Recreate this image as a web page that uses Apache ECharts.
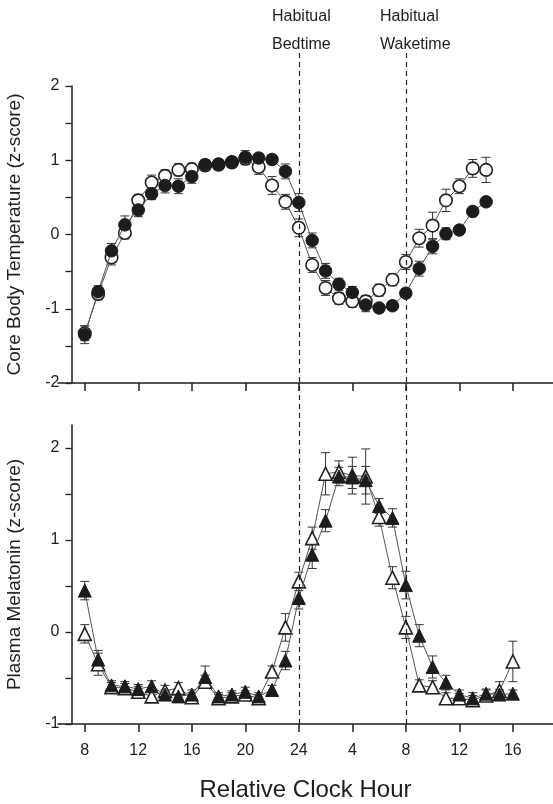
<!DOCTYPE html>
<html>
<head>
<meta charset="utf-8">
<script src="https://cdn.jsdelivr.net/npm/echarts@6/dist/echarts.min.js"></script>
<style>
  html, body { margin: 0; padding: 0; background: #fff; }
  #main { width: 553px; height: 804px; }
</style>
</head>
<body>
<div id="main"></div>
<script>
// relative clock hour (8 = 08:00 day 1, 32 = 08:00 day 2)
var tempHours = [8,9,10,11,12,13,14,15,16,17,18,19,20,21,22,23,24,25,26,27,28,29,30,31,32,33,34,35,36,37,38];
var tempFilled = [-1.35,-0.77,-0.22,0.13,0.33,0.55,0.66,0.65,0.78,0.94,0.95,0.98,1.04,1.03,1.01,0.85,0.43,-0.08,-0.49,-0.67,-0.78,-0.95,-0.99,-0.96,-0.79,-0.46,-0.16,0.01,0.06,0.31,0.44];
var tempFilledErr = [0.12,0.08,0.10,0.12,0.09,0.08,0.10,0.10,0.09,0.07,0.06,0.06,0.09,0.06,0.06,0.10,0.12,0.10,0.10,0.08,0.08,0.09,0.05,0.05,0.06,0.10,0.10,0.08,0.06,0.06,0.05];
var tempOpen = [-1.33,-0.80,-0.31,0.02,0.46,0.70,0.79,0.87,0.88,0.93,0.94,0.97,1.02,0.91,0.66,0.44,0.09,-0.41,-0.72,-0.86,-0.90,-0.90,-0.75,-0.61,-0.37,-0.05,0.12,0.46,0.65,0.89,0.87];
var tempOpenErr = [0.10,0.08,0.10,0.08,0.08,0.10,0.08,0.08,0.08,0.07,0.06,0.06,0.08,0.10,0.12,0.10,0.12,0.10,0.10,0.08,0.08,0.08,0.08,0.08,0.10,0.12,0.18,0.15,0.10,0.12,0.17];

var melHours = [8,9,10,11,12,13,14,15,16,17,18,19,20,21,22,23,24,25,26,27,28,29,30,31,32,33,34,35,36,37,38,39,40];
var melFilled = [0.45,-0.30,-0.58,-0.59,-0.62,-0.59,-0.68,-0.70,-0.68,-0.49,-0.70,-0.68,-0.65,-0.70,-0.63,-0.31,0.37,0.84,1.21,1.69,1.68,1.65,1.37,1.24,0.51,-0.04,-0.38,-0.55,-0.68,-0.72,-0.67,-0.68,-0.67];
var melFilledErr = [0.10,0.10,0.05,0.05,0.05,0.06,0.05,0.05,0.05,0.12,0.04,0.04,0.05,0.04,0.05,0.10,0.12,0.15,0.12,0.10,0.12,0.15,0.08,0.10,0.15,0.12,0.12,0.08,0.05,0.06,0.05,0.05,0.04];
var melOpen = [-0.02,-0.35,-0.60,-0.61,-0.65,-0.70,-0.64,-0.61,-0.71,-0.54,-0.72,-0.70,-0.68,-0.72,-0.43,0.05,0.55,1.02,1.72,1.74,1.70,1.69,1.25,0.59,0.05,-0.58,-0.60,-0.72,-0.72,-0.74,-0.69,-0.64,-0.32];
var melOpenErr = [0.10,0.12,0.05,0.05,0.06,0.05,0.06,0.06,0.05,0.07,0.04,0.04,0.04,0.04,0.06,0.15,0.10,0.12,0.23,0.12,0.20,0.30,0.10,0.12,0.12,0.06,0.07,0.06,0.05,0.05,0.06,0.10,0.22];

var xTickHours = [8,12,16,20,24,28,32,36,40];
var xTickLabels = ['8','12','16','20','24','4','8','12','16'];
var tempTicks = [-2,-1.5,-1,-0.5,0,0.5,1,1.5,2];
var tempLabels = [-2,-1,0,1,2];
var melTicks = [-1,-0.5,0,0.5,1,1.5,2];
var melLabels = [-1,0,1,2];
var habitualHours = [24, 32]; // bedtime, waketime

var FONT = "'Liberation Sans', Arial, sans-serif";
var INK = '#1e1e1e';

function pairs(xs, ys) {
  return xs.map(function (x, i) { return [x, ys[i]]; });
}
function errs(xs, ys, es) {
  return xs.map(function (x, i) { return [x, ys[i] - es[i], ys[i] + es[i]]; });
}

function renderErr(params, api) {
  var x = api.value(0);
  var lo = api.coord([x, api.value(1)]);
  var hi = api.coord([x, api.value(2)]);
  var w = 4.5;
  var st = { stroke: '#333', lineWidth: 1 };
  return {
    type: 'group',
    children: [
      { type: 'line', shape: { x1: lo[0], y1: lo[1], x2: hi[0], y2: hi[1] }, style: st },
      { type: 'line', shape: { x1: lo[0] - w, y1: lo[1], x2: lo[0] + w, y2: lo[1] }, style: st },
      { type: 'line', shape: { x1: hi[0] - w, y1: hi[1], x2: hi[0] + w, y2: hi[1] }, style: st }
    ]
  };
}

function xAxisFor(gridIndex, showLabels) {
  return {
    type: 'value', gridIndex: gridIndex, min: 6, max: 43,
    name: showLabels ? 'Relative Clock Hour' : '',
    nameLocation: 'middle', nameGap: 54,
    nameTextStyle: { fontFamily: FONT, fontSize: 24, color: INK },
    axisLine: { show: true, onZero: false, lineStyle: { color: INK, width: 1.5 } },
    axisTick: { show: true, inside: false, length: 8, customValues: xTickHours, lineStyle: { color: INK, width: 1.5 } },
    axisLabel: {
      show: showLabels, customValues: xTickHours, margin: 19,
      fontFamily: FONT, fontSize: 16, color: INK,
      formatter: function (v) { return xTickLabels[xTickHours.indexOf(v)]; }
    },
    splitLine: { show: false }
  };
}

function yAxisFor(gridIndex, min, max, ticks, labels, name) {
  return {
    type: 'value', gridIndex: gridIndex, min: min, max: max, offset: -13.5,
    name: name, nameLocation: 'middle', nameGap: 47,
    nameTextStyle: { fontFamily: FONT, fontSize: 19, color: INK },
    axisLine: { show: true, onZero: false, lineStyle: { color: INK, width: 1.5 } },
    axisTick: { show: true, length: 6, customValues: ticks, lineStyle: { color: INK, width: 1.3 } },
    axisLabel: { customValues: labels, margin: 12, fontFamily: FONT, fontSize: 16, color: INK },
    splitLine: { show: false }
  };
}

function lineSeries(xi, yi, data, symbol, filled, z) {
  return {
    type: 'line', xAxisIndex: xi, yAxisIndex: yi, data: data,
    symbol: symbol, symbolSize: symbol === 'circle' ? 12.5 : 13,
    showAllSymbol: true, animation: false, z: z,
    lineStyle: { color: '#555', width: 1 },
    itemStyle: filled
      ? { color: '#1c1c1c', borderColor: '#1c1c1c', borderWidth: 1 }
      : { color: '#ffffff', borderColor: '#222', borderWidth: 1.6 }
  };
}

function errSeries(xi, yi, data) {
  return {
    type: 'custom', xAxisIndex: xi, yAxisIndex: yi, data: data,
    renderItem: renderErr, animation: false, z: 1, silent: true
  };
}

var chart = echarts.init(document.getElementById('main'), null, { renderer: 'canvas' });

chart.setOption({
  backgroundColor: '#ffffff',
  animation: false,
  textStyle: { fontFamily: FONT },
  grid: [
    { left: 58, right: 0, top: 86, height: 297, outerBoundsMode: 'none' },
    { left: 58, right: 0, top: 425, height: 299, outerBoundsMode: 'none' },
    { left: 58, right: 0, top: 53, height: 671, outerBoundsMode: 'none' }
  ],
  xAxis: [
    xAxisFor(0, false),
    xAxisFor(1, true),
    { type: 'value', gridIndex: 2, min: 6, max: 43, show: false }
  ],
  yAxis: [
    yAxisFor(0, -2, 2, tempTicks, tempLabels, 'Core Body Temperature (z-score)'),
    yAxisFor(1, -1, 2.25, melTicks, melLabels, 'Plasma Melatonin (z-score)'),
    { type: 'value', gridIndex: 2, min: 0, max: 1, show: false }
  ],
  graphic: [
    { type: 'text', left: 272, top: 3, style: { text: 'Habitual\nBedtime', font: '16px ' + FONT, fill: INK, lineHeight: 28 } },
    { type: 'text', left: 380, top: 3, style: { text: 'Habitual\nWaketime', font: '16px ' + FONT, fill: INK, lineHeight: 28 } }
  ],
  series: [
    // habitual bed / wake times
    {
      type: 'line', xAxisIndex: 2, yAxisIndex: 2, data: [], z: 0,
      markLine: {
        silent: true, symbol: 'none', animation: false,
        label: { show: false },
        lineStyle: { color: '#222', type: [5, 4], width: 1.2 },
        data: habitualHours.map(function (h) { return { xAxis: h }; })
      }
    },
    errSeries(0, 0, errs(tempHours, tempOpen, tempOpenErr)),
    errSeries(0, 0, errs(tempHours, tempFilled, tempFilledErr)),
    lineSeries(0, 0, pairs(tempHours, tempOpen), 'circle', false, 3),
    lineSeries(0, 0, pairs(tempHours, tempFilled), 'circle', true, 4),
    errSeries(1, 1, errs(melHours, melOpen, melOpenErr)),
    errSeries(1, 1, errs(melHours, melFilled, melFilledErr)),
    lineSeries(1, 1, pairs(melHours, melOpen), 'triangle', false, 3),
    lineSeries(1, 1, pairs(melHours, melFilled), 'triangle', true, 4)
  ]
});
</script>
</body>
</html>
